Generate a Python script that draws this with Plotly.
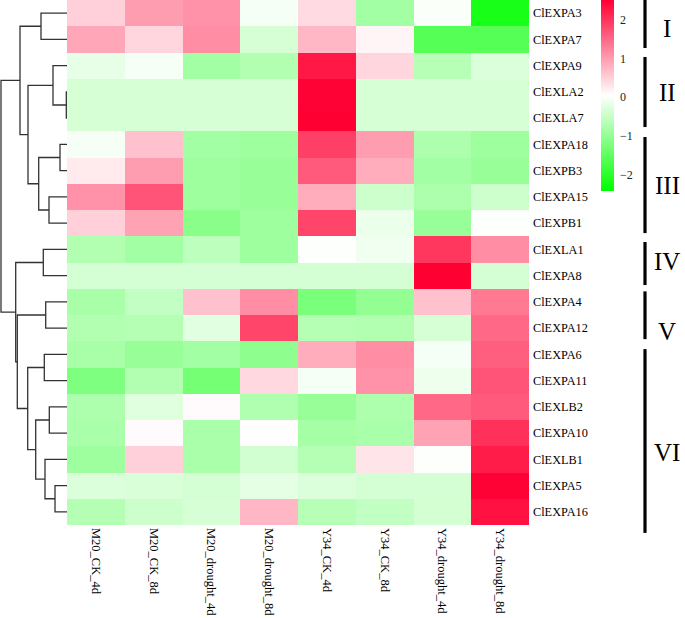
import plotly.graph_objects as go

# ---------------- data ----------------
samples = ["M20_CK_4d", "M20_CK_8d", "M20_drought_4d", "M20_drought_8d",
           "Y34_CK_4d", "Y34_CK_8d", "Y34_drought_4d", "Y34_drought_8d"]

genes = ["ClEXPA3", "ClEXPA7", "ClEXPA9", "ClEXLA2", "ClEXLA7", "ClEXPA18",
         "ClEXPB3", "ClEXPA15", "ClEXPB1", "ClEXLA1", "ClEXPA8", "ClEXPA4",
         "ClEXPA12", "ClEXPA6", "ClEXPA11", "ClEXLB2", "ClEXPA10", "ClEXLB1",
         "ClEXPA5", "ClEXPA16"]

values = [
    [0.50, 1.00, 1.10, -0.05, 0.40, -0.85, 0.00, -2.20],   # ClEXPA3
    [0.90, 0.45, 1.15, -0.35, 0.75, 0.15, -1.60, -1.60],   # ClEXPA7
    [-0.20, -0.05, -0.85, -0.70, 2.30, 0.45, -0.65, -0.30],  # ClEXPA9
    [-0.35, -0.35, -0.35, -0.35, 2.50, -0.35, -0.35, -0.35],  # ClEXLA2
    [-0.35, -0.35, -0.35, -0.35, 2.52, -0.35, -0.35, -0.35],  # ClEXLA7
    [-0.05, 0.65, -0.85, -0.90, 1.90, 1.00, -0.75, -0.90],   # ClEXPA18
    [0.25, 1.00, -0.90, -0.95, 1.65, 0.85, -0.85, -0.95],    # ClEXPB3
    [1.10, 1.70, -0.90, -0.95, 0.85, -0.45, -0.75, -0.45],   # ClEXPA15
    [0.50, 0.95, -1.10, -0.90, 1.85, -0.15, -0.95, 0.02],    # ClEXPB1
    [-0.70, -0.85, -0.60, -0.90, 0.02, -0.10, 2.00, 1.15],   # ClEXLA1
    [-0.37, -0.37, -0.37, -0.37, -0.37, -0.37, 2.52, -0.37],  # ClEXPA8
    [-0.80, -0.55, 0.65, 1.15, -1.25, -1.00, 0.65, 1.35],    # ClEXPA4
    [-0.70, -0.68, -0.25, 1.85, -0.68, -0.70, -0.35, 1.50],  # ClEXPA12
    [-0.80, -0.95, -0.85, -1.05, 0.85, 1.15, -0.05, 1.60],   # ClEXPA6
    [-1.20, -0.70, -1.30, 0.42, -0.05, 1.10, -0.12, 1.70],   # ClEXPA11
    [-0.75, -0.27, 0.08, -0.72, -0.95, -0.75, 1.50, 1.65],   # ClEXLB2
    [-0.78, 0.08, -0.78, 0.06, -0.83, -0.78, 0.95, 2.05],    # ClEXPA10
    [-0.90, 0.50, -0.78, -0.40, -0.68, 0.30, 0.02, 2.25],    # ClEXLB1
    [-0.30, -0.32, -0.37, -0.22, -0.30, -0.37, -0.37, 2.50],  # ClEXPA5
    [-0.68, -0.45, -0.35, 0.75, -0.65, -0.55, -0.38, 2.35],  # ClEXPA16
]

z_min, z_max = -2.43, 2.52
colorbar_ticks = [-2, -1, 0, 1, 2]

# row dendrogram: (child_a, child_b, merge height); leaves 0..19, new ids from 20
merges = [
    (3, 4, 0.7),      # 20
    (2, 20, 14.0),    # 21
    (5, 6, 7.0),      # 22
    (7, 8, 18.0),     # 23
    (22, 23, 28.3),   # 24
    (21, 24, 39.0),   # 25
    (0, 1, 26.0),     # 26
    (26, 25, 47.0),   # 27
    (9, 10, 23.7),    # 28
    (11, 12, 21.3),   # 29
    (13, 14, 22.7),   # 30
    (15, 16, 17.7),   # 31
    (18, 19, 12.0),   # 32
    (17, 32, 22.0),   # 33
    (31, 33, 31.3),   # 34
    (30, 34, 39.3),   # 35
    (29, 35, 49.7),   # 36
    (28, 36, 51.3),   # 37
    (27, 37, 66.0),   # 38
]

# groups: label, bar start row, bar end row, label row position
group_labels = ["I", "II", "III", "IV", "V", "VI"]
group_bar_start = [-0.5, 1.67, 4.72, 8.72, 10.6, 12.8]
group_bar_end = [1.33, 4.34, 8.38, 10.36, 12.42, 19.8]
group_label_row = [0.6, 3.04, 6.55, 9.48, 12.14, 16.74]

# ---------------- layout geometry ----------------
W, H = 685, 618
hm_left, hm_right = 67, 529
hm_top, hm_bottom = 0, 525
n_rows = len(genes)

def px_x(x):
    return x / W

def px_y(y):
    return 1 - y / H

y_dom = [px_y(hm_bottom), px_y(hm_top)]

def row_to_paper(r):
    frac = (r + 0.5) / n_rows
    return y_dom[1] - frac * (y_dom[1] - y_dom[0])

serif = "Liberation Serif, Times New Roman, serif"

fig = go.Figure()

fig.add_trace(go.Heatmap(
    z=values,
    x=list(range(len(samples))),
    y=list(range(n_rows)),
    zmin=z_min, zmax=z_max,
    colorscale=[[0.0, "rgb(0,255,0)"], [0.5, "rgb(255,255,255)"], [1.0, "rgb(255,0,51)"]],
    xaxis="x", yaxis="y",
    colorbar=dict(
        x=px_x(601), xanchor="left", y=1, yanchor="top",
        len=191 / H, lenmode="fraction",
        thickness=13, thicknessmode="pixels",
        xpad=0, ypad=0, outlinewidth=0,
        tickvals=colorbar_ticks, ticks="outside", ticklen=4, tickcolor="rgba(0,0,0,0)",
        tickfont=dict(family=serif, size=12, color="#222"),
    ),
    hoverinfo="skip",
))

# dendrogram from merges
pos = {i: float(i) for i in range(n_rows)}
hgt = {i: 0.0 for i in range(n_rows)}
dx, dy = [], []
for k, (a, b, h) in enumerate(merges):
    nid = n_rows + k
    dx += [hgt[a], h, h, hgt[b], None]
    dy += [pos[a], pos[a], pos[b], pos[b], None]
    pos[nid] = (pos[a] + pos[b]) / 2
    hgt[nid] = h

fig.add_trace(go.Scatter(
    x=dx, y=dy, mode="lines", xaxis="x2", yaxis="y",
    line=dict(color="#333333", width=1.3),
    hoverinfo="skip", showlegend=False,
))

# group bars and labels
shapes = []
annotations = []
for lab, s, e, lr in zip(group_labels, group_bar_start, group_bar_end, group_label_row):
    shapes.append(dict(type="line", xref="paper", yref="paper",
                       x0=px_x(645), x1=px_x(645),
                       y0=row_to_paper(s), y1=row_to_paper(e),
                       line=dict(color="black", width=3.2)))
    annotations.append(dict(text=lab, xref="paper", yref="paper",
                            x=px_x(667), y=row_to_paper(lr),
                            xanchor="center", yanchor="middle", showarrow=False,
                            font=dict(family=serif, size=25, color="black")))

fig.update_layout(
    width=W, height=H, autosize=False,
    margin=dict(l=0, r=0, t=0, b=0),
    paper_bgcolor="white", plot_bgcolor="white",
    showlegend=False,
    xaxis=dict(domain=[px_x(hm_left), px_x(hm_right)], anchor="y",
               range=[-0.5, len(samples) - 0.5],
               tickvals=list(range(len(samples))), ticktext=samples,
               tickangle=90, ticks="", showgrid=False, zeroline=False, showline=False,
               ticklabelstandoff=2,
               tickfont=dict(family=serif, size=12.5, color="black")),
    xaxis2=dict(domain=[0, px_x(hm_left)], anchor="y", range=[67, 0],
                showticklabels=False, ticks="", showgrid=False, zeroline=False, showline=False),
    yaxis=dict(domain=y_dom, anchor="x", side="right",
               range=[n_rows - 0.5, -0.5],
               tickvals=list(range(n_rows)), ticktext=genes,
               ticks="", showgrid=False, zeroline=False, showline=False,
               ticklabelstandoff=3,
               tickfont=dict(family=serif, size=12.3, color="black")),
    shapes=shapes,
    annotations=annotations,
)

fig.write_html("out.html", config={"displayModeBar": False},
               post_script="document.body.style.margin='0';document.body.style.padding='0';")
